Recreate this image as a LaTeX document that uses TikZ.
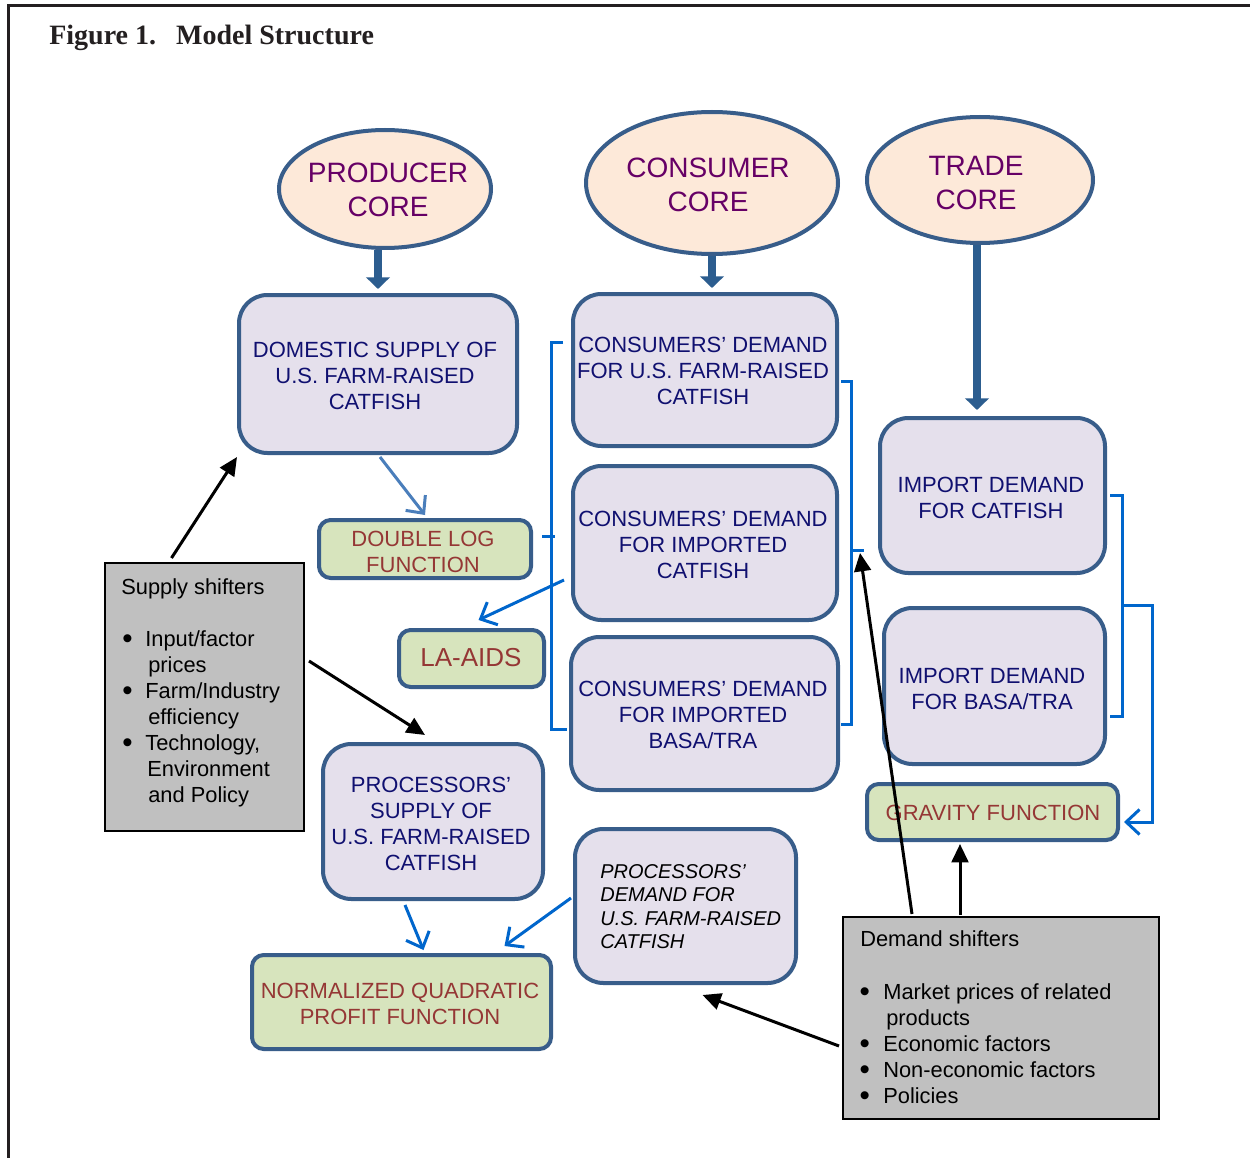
\documentclass[tikz,border=0pt]{standalone}
\usepackage{fontspec}
\setmainfont{Liberation Sans}
\newfontfamily\titlefont{Liberation Serif}
\usetikzlibrary{arrows.meta,shapes.geometric,fit,calc}
\definecolor{bordc}{RGB}{56,93,138}
\definecolor{lav}{RGB}{229,224,236}
\definecolor{peach}{RGB}{253,233,217}
\definecolor{grn}{RGB}{215,228,189}
\definecolor{purp}{RGB}{102,0,102}
\definecolor{navy}{RGB}{16,16,112}
\definecolor{dred}{RGB}{149,55,53}
\definecolor{lblue}{RGB}{0,102,204}
\definecolor{mblue}{RGB}{74,126,187}
\definecolor{tblue}{RGB}{44,93,143}
\definecolor{gfill}{RGB}{192,192,192}
\definecolor{frm}{RGB}{35,31,32}
\newcommand{\mybul}{\smash{\raisebox{-1.4pt}{\scalebox{1.35}{\textbullet}}}}
\newcommand{\sbul}{\hspace*{0.6pt}\makebox[13.8pt][l]{\mybul}}
\newcommand{\dbul}{\hspace*{-0.4pt}\makebox[14.2pt][l]{\mybul}}
\begin{document}
\begin{tikzpicture}[x=0.6pt,y=-0.6pt,
  core/.style={ellipse, draw=bordc, line width=2.4pt, fill=peach, inner sep=0pt},
  lbox/.style={rectangle, draw=bordc, line width=2.4pt, fill=lav, rounded corners=17pt, inner sep=0pt},
  gbox/.style={rectangle, draw=bordc, line width=2.4pt, fill=grn, rounded corners=7pt, inner sep=0pt},
  sbox/.style={rectangle, draw=black, line width=1.2pt, fill=gfill, inner sep=0pt},
  ctxt/.style={font=\fontsize{16.8pt}{20.4pt}\selectfont, text=purp, align=center, inner sep=0pt},
  btxt/.style={font=\fontsize{13.2pt}{15.6pt}\selectfont, text=navy, align=center, inner sep=0pt},
  rtxt/.style={font=\fontsize{13.2pt}{15.6pt}\selectfont, text=dred, align=center, inner sep=0pt},
  stxt/.style={font=\fontsize{13.1pt}{15.6pt}\selectfont, text=black, align=left, inner sep=0pt, anchor=north west},
  bline/.style={draw=lblue, line width=1.8pt},
  barb/.style={-{Straight Barb[length=8pt,width=15pt]}},
  karrow/.style={draw=black, line width=1.8pt, -{Triangle[length=11pt,width=10pt]}},
  tarrow/.style={draw=tblue, line width=4.8pt, -{Triangle[length=7pt,width=14pt]}}]
\useasboundingbox (0,0) rectangle (1250,1158);
\fill[white] (0,0) rectangle (1250,1158);
% frame
\draw[frm, line width=1.8pt] (1250,6) -- (8,6) -- (8,1158);
% title
\node[font=\titlefont\bfseries\fontsize{16.8pt}{20pt}\selectfont, text=frm, anchor=base west, inner sep=0pt] (title) at (49,45) {Figure 1.\hspace{12pt}Model Structure};

% cores
\node[core, minimum width=127.2pt, minimum height=70.8pt] (prod) at (385,189) {};
\node[ctxt] (prodt) at (388,189.5) {PRODUCER\\CORE};
\node[core, minimum width=151.2pt, minimum height=85.2pt] (cons) at (712,183) {};
\node[ctxt] (const) at (708,185) {CONSUMER\\CORE};
\node[core, minimum width=135.6pt, minimum height=75.6pt] (trade) at (980,180) {};
\node[ctxt] (tradet) at (976,183.5) {TRADE\\CORE};

% lavender boxes
\node[lbox, fit={(239,295)(517,453)}] (dom) {};
\node[btxt] (domt) at (375,375.5) {DOMESTIC SUPPLY OF\\U.S. FARM-RAISED\\CATFISH};
\node[lbox, fit={(573,294)(837,446)}] (c1) {};
\node[btxt] (c1t) at (703,370.5) {CONSUMERS’ DEMAND\\FOR U.S. FARM-RAISED\\CATFISH};
\node[lbox, fit={(573,466)(837,620)}] (c2) {};
\node[btxt] (c2t) at (703,545) {CONSUMERS’ DEMAND\\FOR IMPORTED\\CATFISH};
\node[lbox, fit={(571,637)(838,790)}] (c3) {};
\node[btxt] (c3t) at (703,714.5) {CONSUMERS’ DEMAND\\FOR IMPORTED\\BASA/TRA};
\node[lbox, fit={(880,418)(1105,573)}] (imp1) {};
\node[btxt] (imp1t) at (991,497.5) {IMPORT DEMAND\\FOR CATFISH};
\node[lbox, fit={(884,608)(1105,764)}] (imp2) {};
\node[btxt] (imp2t) at (992,688.5) {IMPORT DEMAND\\FOR BASA/TRA};
\node[lbox, fit={(323,744)(543,899)}] (ps) {};
\node[btxt] (pst) at (431,823.5) {PROCESSORS’\\SUPPLY OF\\U.S. FARM-RAISED\\CATFISH};
\node[lbox, fit={(575,829)(796,983)}] (pd) {};
\node[font=\itshape\fontsize{12pt}{14.1pt}\selectfont, align=left, anchor=north west, inner sep=0pt] (pdt) at (600,864) {PROCESSORS’\\DEMAND FOR\\U.S. FARM-RAISED\\CATFISH};

% green boxes
\node[gbox, fit={(319,520)(531,578)}] (dlog) {};
\node[rtxt] (dlogt) at (423,551.5) {DOUBLE LOG\\FUNCTION};
\node[gbox, fit={(399,630)(544,687)}] (la) {};
\node[rtxt, font=\fontsize{15.6pt}{18pt}\selectfont] (lat) at (471,658) {LA-AIDS};
\node[gbox, fit={(867,784)(1118,840)}] (grav) {};
\node[rtxt, font=\fontsize{13.2pt}{15.6pt}\selectfont] (gravt) at (993,813) {GRAVITY FUNCTION};
\node[gbox, fit={(252,955)(551,1049)}] (nq) {};
\node[rtxt] (nqt) at (400,1003.5) {NORMALIZED QUADRATIC\\PROFIT FUNCTION};

% shifter boxes
\node[sbox, fit={(105,563)(304,831)}] (ss) {};
\node[stxt] (sst) at (121,578) {Supply shifters\\[15.6pt]
\sbul Input/factor\\
\hspace*{16.2pt}prices\\
\sbul Farm/Industry\\
\hspace*{16.2pt}efficiency\\
\sbul Technology,\\
\hspace*{15.6pt}Environment\\
\hspace*{16.2pt}and Policy};
\node[sbox, fit={(843,917)(1159,1119)}] (ds) {};
\node[stxt] (dst) at (860,930) {Demand shifters\\[16.2pt]
\dbul Market prices of related\\
\hspace*{15.6pt}products\\
\dbul Economic factors\\
\dbul Non-economic factors\\
\dbul Policies};

% thick arrows from cores
\draw[tarrow] (prod.south -| dom.north) -- ($(dom.north)+(0,-4)$);
\draw[tarrow] (cons.south) -- ($(cons.south |- c1.north)+(0,-4)$);
\draw[tarrow] ($(trade.south)+(-3,0)$) -- ($(imp1.north)+(-15.5,-6)$);

% blue connectors
\draw[draw=mblue, line width=1.8pt, barb] ($(dom.south)+(2,2)$) -- ($(dlog.north)+(0,-3)$);
\draw[bline] ($(c1.west)+(-8,-28)$) -- ++(-12,0) |- ($(c3.west)+(-2,15.5)$);
\draw[bline] ($(dlog.east)+(9,-13)$) -- ++(13,0);
\draw[bline, barb] ($(c2.west)+(-7,37)$) -- ($(la.north)+(7,-8)$);
\draw[bline] ($(c1.east)+(2,11)$) -- ++(10,0) |- ($(c3.east)+(1,10.5)$);
\coordinate (rb) at ($(c2.east)+(12,7)$);
\draw[bline] (rb) -- ++(13,0);
\coordinate (ibt) at ($(imp1.east)+(15,0)$);
\coordinate (ibb) at ($(imp2.east)+(15,30)$);
\draw[bline] ($(imp1.east)+(3,0)$) -- (ibt) -- (ibb) -- ($(imp2.east)+(3,30)$);
\draw[bline, barb] ($(ibt)!0.5!(ibb)$) -- ++(30,0) |- ($(grav.east)+(4,10)$);
\draw[bline, barb] ($(ps.south)+(-28,4)$) -- ($(nq.north)+(22,-3)$);
\draw[bline, barb] ($(pd.west)+(-2,-8)$) -- ($(nq.north)+(103,-7)$);

% black arrows
\draw[karrow] ($(ss.north)+(-33,-4)$) -- ($(dom.south west)+(0,2)$);
\draw[karrow] ($(ss.east)+(4,-36)$) -- ($(ps.north)+(-8,-7)$);
\draw[karrow] ($(ds.north)+(-89,-2)$) -- ($(rb)+(9,3)$);
\draw[karrow] ($(ds.north)+(-41,-1)$) -- ($(grav.south)+(-32.5,2)$);
\draw[karrow] ($(ds.west)+(-3,28)$) -- ($(pd.south)+(17,10)$);
\end{tikzpicture}
\end{document}
